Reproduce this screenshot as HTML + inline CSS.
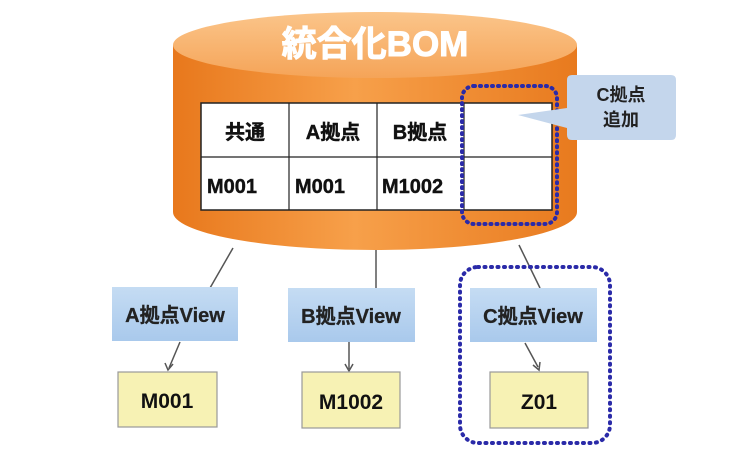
<!DOCTYPE html>
<html><head><meta charset="utf-8"><style>
body{margin:0;width:750px;height:449px;background:#fff;overflow:hidden}
</style></head><body>
<svg width="750" height="449" viewBox="0 0 750 449" xmlns="http://www.w3.org/2000/svg" font-family="Liberation Sans, Noto Sans CJK JP, sans-serif" font-weight="bold">
<defs>
<linearGradient id="body" x1="0" x2="1" y1="0" y2="0">
<stop offset="0" stop-color="#e8781c"/><stop offset="0.45" stop-color="#f7a04a"/><stop offset="1" stop-color="#e87a1e"/>
</linearGradient>
<linearGradient id="top" x1="0" x2="0" y1="0" y2="1">
<stop offset="0" stop-color="#fbc58a"/><stop offset="1" stop-color="#f5a458"/>
</linearGradient>
<linearGradient id="blue" x1="0" x2="0" y1="0" y2="1">
<stop offset="0" stop-color="#c5dcf3"/><stop offset="1" stop-color="#a9c9ec"/>
</linearGradient>
</defs>
<path d="M173 45 L173 212 A202 38 0 0 0 577 212 L577 45 Z" fill="url(#body)"/>
<ellipse cx="375" cy="45" rx="202" ry="33" fill="url(#top)"/>
<text x="375" y="56" font-size="35" fill="#fff" text-anchor="middle" stroke="#fff" stroke-width="1" style="paint-order:stroke">統合化BOM</text>
<rect x="201" y="103" width="351" height="107" fill="#fff" stroke="#222" stroke-width="1.5"/>
<g stroke="#222" stroke-width="1.2">
<line x1="289" y1="103" x2="289" y2="210"/><line x1="377" y1="103" x2="377" y2="210"/><line x1="464" y1="103" x2="464" y2="210"/><line x1="201" y1="157" x2="552" y2="157"/>
</g>
<g font-size="20" fill="#111" stroke="#111" stroke-width="0.4">
<text x="245" y="139" text-anchor="middle">共通</text>
<text x="333" y="139" text-anchor="middle">A拠点</text>
<text x="420" y="139" text-anchor="middle">B拠点</text>
<text x="207" y="193">M001</text><text x="295" y="193">M001</text><text x="382" y="193">M1002</text>
</g>
<rect x="462" y="86" width="95" height="138" rx="12" fill="none" stroke="#2a2aa8" stroke-width="4" stroke-dasharray="1 5" stroke-linecap="round"/>
<path d="M567 80 Q567 75 572 75 L671 75 Q676 75 676 80 L676 135 Q676 140 671 140 L572 140 Q567 140 567 135 L567 128 L518 115 L567 108 Z" fill="#c4d6ec"/>
<text x="621" y="101" font-size="18" fill="#222" text-anchor="middle">C拠点</text>
<text x="621" y="126" font-size="18" fill="#222" text-anchor="middle">追加</text>
<g stroke="#555" stroke-width="1.5" fill="none">
<line x1="233" y1="248" x2="210" y2="288"/><line x1="376" y1="250" x2="376" y2="288"/><line x1="519" y1="245" x2="540" y2="288"/>
<line x1="180" y1="342" x2="169" y2="368"/><line x1="349" y1="342" x2="349" y2="369"/><line x1="525" y1="343" x2="538" y2="367"/>
<path d="M165 363 L168 370 L173 364"/><path d="M345 364 L349 371 L353 364"/><path d="M533 365 L539 370 L540 362"/>
</g>
<rect x="112" y="287" width="126" height="54" fill="url(#blue)"/>
<rect x="288" y="288" width="127" height="54" fill="url(#blue)"/>
<rect x="470" y="288" width="127" height="54" fill="url(#blue)"/>
<g font-size="20" fill="#222" text-anchor="middle" stroke="#222" stroke-width="0.3">
<text x="175" y="322">A拠点View</text><text x="351" y="323">B拠点View</text><text x="533" y="323">C拠点View</text>
</g>
<g fill="#f7f2b4" stroke="#999" stroke-width="1.2">
<rect x="118" y="372" width="99" height="55"/><rect x="302" y="372" width="98" height="56"/><rect x="490" y="372" width="98" height="56"/>
</g>
<g font-size="21" fill="#111" text-anchor="middle">
<text x="167" y="408">M001</text><text x="351" y="409">M1002</text><text x="539" y="409">Z01</text>
</g>
<rect x="460" y="267" width="150" height="176" rx="18" fill="none" stroke="#2a2aa8" stroke-width="4" stroke-dasharray="1 5.5" stroke-linecap="round"/>
</svg>
</body></html>
